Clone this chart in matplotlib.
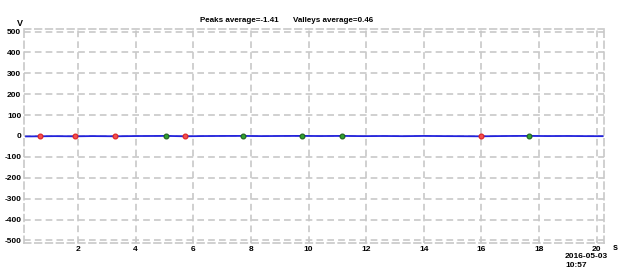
import matplotlib
matplotlib.use("Agg")
import matplotlib.pyplot as plt

plt.rcParams['font.family'] = ['Liberation Sans', 'DejaVu Sans']
plt.rcParams['axes.unicode_minus'] = False

# signal trace (V over s)
t = [0.2, 0.68, 1.2, 1.9, 2.5, 3.29, 4.0, 4.6, 5.05, 5.71, 6.3, 7.0, 7.72, 8.4,
     9.0, 9.77, 10.4, 11.16, 11.9, 12.6, 13.3, 14.0, 14.7, 15.3, 15.98, 16.6,
     17.1, 17.64, 18.3, 19.0, 19.6, 20.2]
v = [-2.0, -1.4, -0.6, -1.5, -0.4, -1.3, -0.2, 0.1, 0.5, -1.4, -0.3, 0.2, 0.4,
     -0.5, 0.1, 0.5, -0.2, 0.4, -0.6, 0.0, -0.8, 0.3, -0.5, -0.9, -1.5, -0.4,
     0.2, 0.5, -0.3, 0.1, -0.6, -0.8]

peak_t = [0.68, 1.9, 3.29, 5.71, 15.98]
peak_v = [-1.4, -1.5, -1.3, -1.4, -1.5]
valley_t = [5.05, 7.72, 9.77, 11.16, 17.64]
valley_v = [0.5, 0.4, 0.5, 0.4, 0.5]

peaks_text = "Peaks average=-1.41"
valleys_text = "Valleys average=0.46"
date_label = "2016-05-03\n10:57"

fig = plt.figure(figsize=(6.28, 2.72), dpi=100)
ax = fig.add_axes([24 / 628, 1 - 243 / 272, 580 / 628, 214 / 272])

ax.plot(t, v, color='#2222dd', lw=1.3, zorder=3)
ax.plot(peak_t, peak_v, 'o', ms=3.5, mfc='#f05050', mec='#e02020', mew=0.8, zorder=4)
ax.plot(valley_t, valley_v, 'o', ms=3.5, mfc='#30a030', mec='#206020', mew=0.8, zorder=4)

ax.set_xlim(0.13, 20.25)
ax.set_ylim(-512, 512)
ax.set_xticks(range(2, 21, 2))
ax.set_yticks(range(-500, 501, 100))

ax.grid(True, color='#c8c8c8', ls=(0, (4, 2.5)), lw=1.2)
for sp in ax.spines.values():
    sp.set_color('#c8c8c8')
    sp.set_linestyle((0, (4, 2.5)))
    sp.set_linewidth(1.2)

ax.tick_params(length=0, labelsize=6, pad=2)
for lab in ax.get_xticklabels() + ax.get_yticklabels():
    lab.set_fontweight('bold')

fig.text(200 / 628, 1 - 20 / 272, peaks_text, ha='left', va='center',
         fontsize=5.8, fontweight='bold')
fig.text(293 / 628, 1 - 20 / 272, valleys_text, ha='left', va='center',
         fontsize=5.8, fontweight='bold')
fig.text(20 / 628, 1 - 23 / 272, "V", ha='center', va='center', fontsize=6.5, fontweight='bold')
fig.text(615 / 628, 1 - 247 / 272, "s", ha='center', va='center', fontsize=6.5, fontweight='bold')
fig.text(565 / 628, 1 - 253 / 272, date_label, ha='left', va='top', fontsize=6,
         fontweight='bold', linespacing=1.4)

fig.savefig('out.png', dpi=100)
